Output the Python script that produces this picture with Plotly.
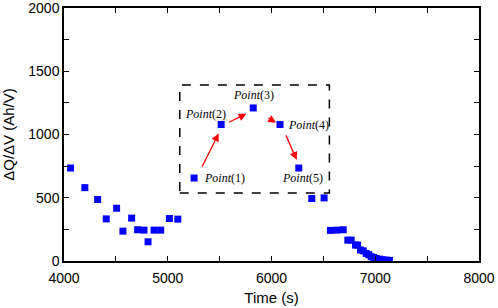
import plotly.graph_objects as go

# main data (Time s, dQ/dV Ah/V)
time_s = [4063, 4201, 4324, 4407, 4507, 4568, 4652, 4710, 4771, 4810, 4868, 4932, 5016, 5097,
          6388, 6507, 6568, 6630, 6691, 6736, 6768, 6810, 6830, 6858, 6885, 6913, 6938, 6961,
          6985, 7008, 7040, 7072, 7105, 7137]
dqdv = [735, 580, 486, 333, 417, 236, 339, 247, 244, 152, 244, 244, 336, 331,
        494, 499, 242, 244, 247, 165, 165, 126, 126, 87, 80, 60, 50, 34,
        27, 20, 15, 10, 7, 5]

# inset points
inset_time = [5254, 5515, 5824, 6082, 6263]
inset_val = [656, 1079, 1210, 1079, 735]
inset_labels = ["<i>Point</i>(1)", "<i>Point</i>(2)", "<i>Point</i>(3)", "<i>Point</i>(4)", "<i>Point</i>(5)"]
label_x = [5329, 5145, 5828, 6137, 6085]
label_y = [656, 1163, 1315, 1079, 659]
label_anchor = ["left", "left", "center", "left", "left"]

# arrows: tail -> head
arrow_tail_x = [5323, 5575, 5957, 6133]
arrow_tail_y = [733, 1091, 1137, 1005]
arrow_head_x = [5491, 5758, 6043, 6243]
arrow_head_y = [1008, 1164, 1093, 800]

box = dict(x0=5116, x1=6558, y0=538, y1=1391)

fig = go.Figure()
fig.add_trace(go.Scatter(x=time_s, y=dqdv, mode="markers",
                         marker=dict(symbol="square", size=7, color="#0000ff"),
                         showlegend=False))
fig.add_trace(go.Scatter(x=inset_time, y=inset_val, mode="markers",
                         marker=dict(symbol="square", size=7, color="#0000ff"),
                         showlegend=False))

fig.add_shape(type="rect", xref="x", yref="y", x0=box["x0"], x1=box["x1"], y0=box["y0"], y1=box["y1"],
              line=dict(color="black", width=1.5, dash="dash"))

for tx, ty, hx, hy in zip(arrow_tail_x, arrow_tail_y, arrow_head_x, arrow_head_y):
    fig.add_annotation(x=hx, y=hy, ax=tx, ay=ty, xref="x", yref="y", axref="x", ayref="y",
                       text="", showarrow=True, arrowhead=2, arrowsize=1.2, arrowwidth=1.3,
                       arrowcolor="red")

for lx, ly, t, a in zip(label_x, label_y, inset_labels, label_anchor):
    fig.add_annotation(x=lx, y=ly, xref="x", yref="y", text=t, showarrow=False, xanchor=a,
                       font=dict(family="Liberation Serif, Times New Roman, serif", size=12, color="black"))

axis_common = dict(showline=True, linecolor="black", linewidth=1.5, mirror="ticks",
                   ticks="inside", ticklen=5, tickwidth=1.2, tickcolor="black",
                   showgrid=False, zeroline=False, automargin=False, ticklabeloverflow="allow",
                   tickfont=dict(family="Liberation Sans, Arial, sans-serif", size=14, color="black"))

fig.update_xaxes(range=[4000, 8000], dtick=1000, tick0=4000, ticklabelstandoff=3,
                 minor=dict(dtick=500, ticks="inside", ticklen=5, tickcolor="black", showgrid=False),
                 title=dict(text="Time (s)", standoff=8,
                            font=dict(family="Liberation Sans, Arial, sans-serif", size=15, color="black")),
                 **axis_common)
fig.update_yaxes(range=[0, 2000], dtick=500, tick0=0,
                 minor=dict(dtick=250, ticks="inside", ticklen=5, tickcolor="black", showgrid=False),
                 title=dict(text="ΔQ/ΔV (Ah/V)", standoff=11,
                            font=dict(family="Liberation Sans, Arial, sans-serif", size=15, color="black")),
                 **axis_common)

fig.update_layout(width=498, height=308, margin=dict(l=64, r=19, t=8, b=47),
                  plot_bgcolor="white", paper_bgcolor="white")

fig.write_html("out.html", config={"displayModeBar": False},
               post_script="document.body.style.margin='0';")
